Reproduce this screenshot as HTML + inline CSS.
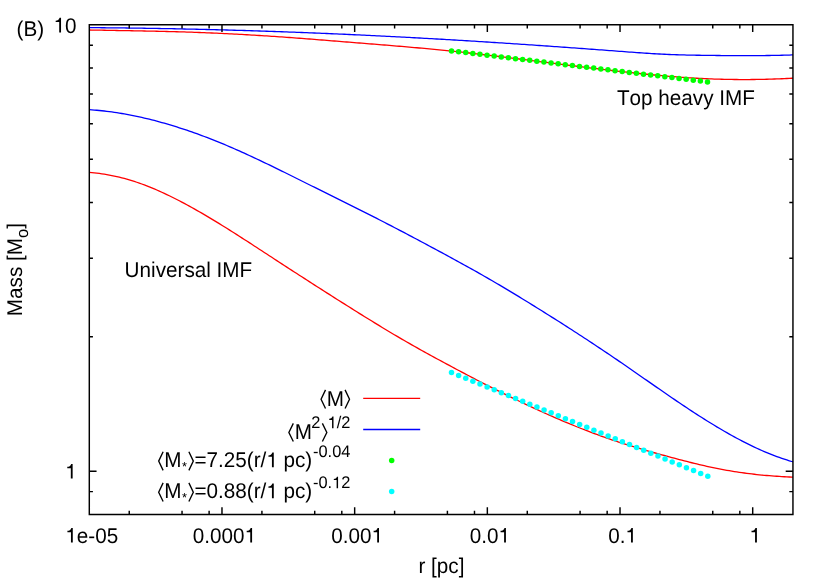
<!DOCTYPE html>
<html><head><meta charset="utf-8"><title>plot</title>
<style>html,body{margin:0;padding:0;background:#fff;}svg{display:block;will-change:transform;}</style>
</head><body>
<svg width="830" height="581" viewBox="0 0 830 581">
<rect x="0" y="0" width="830" height="581" fill="#fff"/>
<g fill="none" stroke-width="1.3" stroke-linejoin="round">
<path stroke="#ff0000" d="M89.3,172.31 L91.8,172.54 L94.3,172.81 L96.8,173.10 L99.3,173.43 L101.8,173.79 L104.3,174.18 L106.8,174.60 L109.3,175.05 L111.8,175.54 L114.3,176.06 L116.8,176.61 L119.3,177.20 L121.8,177.82 L124.3,178.47 L126.8,179.16 L129.3,179.88 L131.8,180.63 L134.3,181.42 L136.8,182.25 L139.3,183.11 L141.8,184.00 L144.3,184.92 L146.8,185.88 L149.3,186.87 L151.8,187.88 L154.3,188.93 L156.8,190.00 L159.3,191.10 L161.8,192.23 L164.3,193.38 L166.8,194.56 L169.3,195.76 L171.8,196.98 L174.3,198.23 L176.8,199.50 L179.3,200.78 L181.8,202.09 L184.3,203.42 L186.8,204.76 L189.3,206.12 L191.8,207.50 L194.3,208.90 L196.8,210.31 L199.3,211.74 L201.8,213.18 L204.3,214.64 L206.8,216.11 L209.3,217.59 L211.8,219.09 L214.3,220.60 L216.8,222.12 L219.3,223.65 L221.8,225.19 L224.3,226.74 L226.8,228.30 L229.3,229.87 L231.8,231.45 L234.3,233.03 L236.8,234.62 L239.3,236.22 L241.8,237.83 L244.3,239.44 L246.8,241.05 L249.3,242.67 L251.8,244.29 L254.3,245.92 L256.8,247.54 L259.3,249.17 L261.8,250.80 L264.3,252.43 L266.8,254.07 L269.3,255.70 L271.8,257.33 L274.3,258.96 L276.8,260.58 L279.3,262.21 L281.8,263.84 L284.3,265.46 L286.8,267.08 L289.3,268.71 L291.8,270.33 L294.3,271.94 L296.8,273.56 L299.3,275.18 L301.8,276.79 L304.3,278.40 L306.8,280.01 L309.3,281.62 L311.8,283.23 L314.3,284.83 L316.8,286.44 L319.3,288.04 L321.8,289.64 L324.3,291.23 L326.8,292.83 L329.3,294.42 L331.8,296.01 L334.3,297.60 L336.8,299.18 L339.3,300.76 L341.8,302.34 L344.3,303.92 L346.8,305.50 L349.3,307.07 L351.8,308.64 L354.3,310.20 L356.8,311.77 L359.3,313.33 L361.8,314.88 L364.3,316.44 L366.8,317.99 L369.3,319.53 L371.8,321.07 L374.3,322.61 L376.8,324.14 L379.3,325.67 L381.8,327.19 L384.3,328.70 L386.8,330.21 L389.3,331.71 L391.8,333.20 L394.3,334.69 L396.8,336.17 L399.3,337.64 L401.8,339.10 L404.3,340.55 L406.8,341.99 L409.3,343.42 L411.8,344.85 L414.3,346.26 L416.8,347.67 L419.3,349.07 L421.8,350.46 L424.3,351.85 L426.8,353.23 L429.3,354.61 L431.8,355.98 L434.3,357.34 L436.8,358.70 L439.3,360.05 L441.8,361.41 L444.3,362.75 L446.8,364.10 L449.3,365.44 L451.8,366.78 L454.3,368.11 L456.8,369.45 L459.3,370.77 L461.8,372.10 L464.3,373.42 L466.8,374.73 L469.3,376.05 L471.8,377.35 L474.3,378.66 L476.8,379.96 L479.3,381.25 L481.8,382.54 L484.3,383.82 L486.8,385.10 L489.3,386.38 L491.8,387.65 L494.3,388.91 L496.8,390.17 L499.3,391.42 L501.8,392.67 L504.3,393.91 L506.8,395.14 L509.3,396.37 L511.8,397.59 L514.3,398.81 L516.8,400.02 L519.3,401.22 L521.8,402.42 L524.3,403.61 L526.8,404.79 L529.3,405.96 L531.8,407.13 L534.3,408.29 L536.8,409.45 L539.3,410.59 L541.8,411.73 L544.3,412.86 L546.8,413.98 L549.3,415.09 L551.8,416.20 L554.3,417.30 L556.8,418.38 L559.3,419.46 L561.8,420.53 L564.3,421.59 L566.8,422.65 L569.3,423.69 L571.8,424.72 L574.3,425.74 L576.8,426.76 L579.3,427.76 L581.8,428.75 L584.3,429.73 L586.8,430.71 L589.3,431.67 L591.8,432.62 L594.3,433.56 L596.8,434.48 L599.3,435.40 L601.8,436.31 L604.3,437.20 L606.8,438.08 L609.3,438.95 L611.8,439.81 L614.3,440.66 L616.8,441.49 L619.3,442.31 L621.8,443.12 L624.3,443.92 L626.8,444.70 L629.3,445.47 L631.8,446.24 L634.3,446.99 L636.8,447.74 L639.3,448.47 L641.8,449.20 L644.3,449.92 L646.8,450.64 L649.3,451.35 L651.8,452.05 L654.3,452.75 L656.8,453.44 L659.3,454.13 L661.8,454.82 L664.3,455.50 L666.8,456.18 L669.3,456.86 L671.8,457.54 L674.3,458.21 L676.8,458.88 L679.3,459.54 L681.8,460.20 L684.3,460.85 L686.8,461.49 L689.3,462.12 L691.8,462.75 L694.3,463.36 L696.8,463.97 L699.3,464.57 L701.8,465.15 L704.3,465.72 L706.8,466.28 L709.3,466.83 L711.8,467.36 L714.3,467.88 L716.8,468.39 L719.3,468.88 L721.8,469.36 L724.3,469.82 L726.8,470.27 L729.3,470.70 L731.8,471.12 L734.3,471.53 L736.8,471.92 L739.3,472.30 L741.8,472.66 L744.3,473.01 L746.8,473.34 L749.3,473.66 L751.8,473.97 L754.3,474.26 L756.8,474.54 L759.3,474.80 L761.8,475.05 L764.3,475.28 L766.8,475.50 L769.3,475.71 L771.8,475.91 L774.3,476.10 L776.8,476.27 L779.3,476.43 L781.8,476.59 L784.3,476.73 L786.8,476.86 L789.3,476.99 L791.8,477.10 L793.0,477.15"/>
<path stroke="#0000ff" d="M89.3,109.68 L91.8,109.85 L94.3,110.04 L96.8,110.26 L99.3,110.49 L101.8,110.74 L104.3,111.01 L106.8,111.31 L109.3,111.62 L111.8,111.96 L114.3,112.31 L116.8,112.68 L119.3,113.08 L121.8,113.49 L124.3,113.92 L126.8,114.37 L129.3,114.84 L131.8,115.32 L134.3,115.83 L136.8,116.35 L139.3,116.89 L141.8,117.45 L144.3,118.02 L146.8,118.61 L149.3,119.22 L151.8,119.85 L154.3,120.49 L156.8,121.15 L159.3,121.82 L161.8,122.51 L164.3,123.22 L166.8,123.94 L169.3,124.67 L171.8,125.42 L174.3,126.19 L176.8,126.97 L179.3,127.77 L181.8,128.58 L184.3,129.40 L186.8,130.24 L189.3,131.09 L191.8,131.96 L194.3,132.84 L196.8,133.73 L199.3,134.64 L201.8,135.56 L204.3,136.49 L206.8,137.44 L209.3,138.40 L211.8,139.38 L214.3,140.37 L216.8,141.37 L219.3,142.39 L221.8,143.41 L224.3,144.45 L226.8,145.51 L229.3,146.57 L231.8,147.65 L234.3,148.74 L236.8,149.84 L239.3,150.95 L241.8,152.07 L244.3,153.20 L246.8,154.34 L249.3,155.49 L251.8,156.65 L254.3,157.81 L256.8,158.98 L259.3,160.17 L261.8,161.35 L264.3,162.55 L266.8,163.75 L269.3,164.95 L271.8,166.17 L274.3,167.38 L276.8,168.60 L279.3,169.83 L281.8,171.06 L284.3,172.29 L286.8,173.52 L289.3,174.76 L291.8,176.00 L294.3,177.24 L296.8,178.49 L299.3,179.73 L301.8,180.98 L304.3,182.22 L306.8,183.47 L309.3,184.71 L311.8,185.96 L314.3,187.20 L316.8,188.44 L319.3,189.68 L321.8,190.92 L324.3,192.16 L326.8,193.39 L329.3,194.63 L331.8,195.87 L334.3,197.11 L336.8,198.34 L339.3,199.58 L341.8,200.82 L344.3,202.06 L346.8,203.31 L349.3,204.55 L351.8,205.80 L354.3,207.05 L356.8,208.30 L359.3,209.56 L361.8,210.82 L364.3,212.08 L366.8,213.34 L369.3,214.61 L371.8,215.89 L374.3,217.16 L376.8,218.44 L379.3,219.72 L381.8,221.01 L384.3,222.29 L386.8,223.58 L389.3,224.88 L391.8,226.18 L394.3,227.48 L396.8,228.78 L399.3,230.08 L401.8,231.39 L404.3,232.70 L406.8,234.02 L409.3,235.34 L411.8,236.66 L414.3,237.98 L416.8,239.30 L419.3,240.63 L421.8,241.96 L424.3,243.29 L426.8,244.63 L429.3,245.97 L431.8,247.31 L434.3,248.65 L436.8,249.99 L439.3,251.34 L441.8,252.69 L444.3,254.04 L446.8,255.40 L449.3,256.75 L451.8,258.11 L454.3,259.48 L456.8,260.84 L459.3,262.21 L461.8,263.59 L464.3,264.97 L466.8,266.35 L469.3,267.74 L471.8,269.13 L474.3,270.53 L476.8,271.94 L479.3,273.35 L481.8,274.77 L484.3,276.20 L486.8,277.63 L489.3,279.07 L491.8,280.52 L494.3,281.98 L496.8,283.44 L499.3,284.91 L501.8,286.39 L504.3,287.88 L506.8,289.37 L509.3,290.87 L511.8,292.37 L514.3,293.88 L516.8,295.40 L519.3,296.92 L521.8,298.44 L524.3,299.97 L526.8,301.51 L529.3,303.05 L531.8,304.59 L534.3,306.14 L536.8,307.69 L539.3,309.25 L541.8,310.80 L544.3,312.37 L546.8,313.93 L549.3,315.50 L551.8,317.08 L554.3,318.66 L556.8,320.24 L559.3,321.82 L561.8,323.41 L564.3,325.01 L566.8,326.61 L569.3,328.21 L571.8,329.82 L574.3,331.44 L576.8,333.05 L579.3,334.68 L581.8,336.30 L584.3,337.94 L586.8,339.57 L589.3,341.22 L591.8,342.86 L594.3,344.52 L596.8,346.17 L599.3,347.84 L601.8,349.51 L604.3,351.18 L606.8,352.86 L609.3,354.55 L611.8,356.24 L614.3,357.93 L616.8,359.64 L619.3,361.34 L621.8,363.06 L624.3,364.78 L626.8,366.50 L629.3,368.23 L631.8,369.96 L634.3,371.70 L636.8,373.44 L639.3,375.18 L641.8,376.92 L644.3,378.66 L646.8,380.40 L649.3,382.14 L651.8,383.88 L654.3,385.62 L656.8,387.36 L659.3,389.09 L661.8,390.82 L664.3,392.54 L666.8,394.26 L669.3,395.98 L671.8,397.69 L674.3,399.39 L676.8,401.09 L679.3,402.78 L681.8,404.46 L684.3,406.13 L686.8,407.80 L689.3,409.45 L691.8,411.09 L694.3,412.73 L696.8,414.35 L699.3,415.95 L701.8,417.55 L704.3,419.13 L706.8,420.70 L709.3,422.25 L711.8,423.79 L714.3,425.31 L716.8,426.82 L719.3,428.31 L721.8,429.78 L724.3,431.23 L726.8,432.67 L729.3,434.08 L731.8,435.48 L734.3,436.85 L736.8,438.21 L739.3,439.54 L741.8,440.85 L744.3,442.14 L746.8,443.40 L749.3,444.65 L751.8,445.86 L754.3,447.05 L756.8,448.22 L759.3,449.36 L761.8,450.47 L764.3,451.55 L766.8,452.61 L769.3,453.64 L771.8,454.64 L774.3,455.60 L776.8,456.54 L779.3,457.45 L781.8,458.33 L784.3,459.17 L786.8,459.98 L789.3,460.76 L791.8,461.50 L793.0,461.83"/>
<path stroke="#ff0000" d="M89.3,29.98 L91.8,30.03 L94.3,30.08 L96.8,30.13 L99.3,30.17 L101.8,30.22 L104.3,30.26 L106.8,30.31 L109.3,30.35 L111.8,30.40 L114.3,30.44 L116.8,30.48 L119.3,30.53 L121.8,30.57 L124.3,30.61 L126.8,30.66 L129.3,30.70 L131.8,30.75 L134.3,30.79 L136.8,30.84 L139.3,30.89 L141.8,30.93 L144.3,30.98 L146.8,31.03 L149.3,31.08 L151.8,31.13 L154.3,31.19 L156.8,31.24 L159.3,31.30 L161.8,31.36 L164.3,31.42 L166.8,31.48 L169.3,31.54 L171.8,31.61 L174.3,31.68 L176.8,31.75 L179.3,31.82 L181.8,31.90 L184.3,31.97 L186.8,32.06 L189.3,32.14 L191.8,32.22 L194.3,32.31 L196.8,32.40 L199.3,32.50 L201.8,32.59 L204.3,32.69 L206.8,32.79 L209.3,32.90 L211.8,33.00 L214.3,33.11 L216.8,33.22 L219.3,33.33 L221.8,33.45 L224.3,33.57 L226.8,33.69 L229.3,33.81 L231.8,33.94 L234.3,34.07 L236.8,34.20 L239.3,34.33 L241.8,34.47 L244.3,34.60 L246.8,34.75 L249.3,34.89 L251.8,35.03 L254.3,35.18 L256.8,35.33 L259.3,35.49 L261.8,35.64 L264.3,35.80 L266.8,35.96 L269.3,36.12 L271.8,36.29 L274.3,36.46 L276.8,36.63 L279.3,36.80 L281.8,36.97 L284.3,37.15 L286.8,37.33 L289.3,37.51 L291.8,37.69 L294.3,37.87 L296.8,38.06 L299.3,38.24 L301.8,38.43 L304.3,38.62 L306.8,38.81 L309.3,39.01 L311.8,39.20 L314.3,39.40 L316.8,39.59 L319.3,39.79 L321.8,39.99 L324.3,40.18 L326.8,40.38 L329.3,40.58 L331.8,40.78 L334.3,40.99 L336.8,41.19 L339.3,41.39 L341.8,41.59 L344.3,41.79 L346.8,42.00 L349.3,42.20 L351.8,42.40 L354.3,42.60 L356.8,42.80 L359.3,43.01 L361.8,43.21 L364.3,43.41 L366.8,43.61 L369.3,43.81 L371.8,44.01 L374.3,44.21 L376.8,44.41 L379.3,44.62 L381.8,44.82 L384.3,45.02 L386.8,45.22 L389.3,45.43 L391.8,45.63 L394.3,45.84 L396.8,46.05 L399.3,46.26 L401.8,46.47 L404.3,46.68 L406.8,46.89 L409.3,47.11 L411.8,47.32 L414.3,47.54 L416.8,47.76 L419.3,47.99 L421.8,48.21 L424.3,48.44 L426.8,48.67 L429.3,48.90 L431.8,49.13 L434.3,49.37 L436.8,49.61 L439.3,49.85 L441.8,50.10 L444.3,50.35 L446.8,50.60 L449.3,50.86 L451.8,51.12 L454.3,51.38 L456.8,51.65 L459.3,51.91 L461.8,52.18 L464.3,52.46 L466.8,52.73 L469.3,53.01 L471.8,53.29 L474.3,53.58 L476.8,53.86 L479.3,54.15 L481.8,54.44 L484.3,54.73 L486.8,55.03 L489.3,55.32 L491.8,55.62 L494.3,55.92 L496.8,56.22 L499.3,56.52 L501.8,56.83 L504.3,57.13 L506.8,57.44 L509.3,57.75 L511.8,58.06 L514.3,58.37 L516.8,58.68 L519.3,58.99 L521.8,59.31 L524.3,59.62 L526.8,59.94 L529.3,60.25 L531.8,60.57 L534.3,60.89 L536.8,61.20 L539.3,61.52 L541.8,61.84 L544.3,62.15 L546.8,62.47 L549.3,62.79 L551.8,63.11 L554.3,63.42 L556.8,63.74 L559.3,64.06 L561.8,64.37 L564.3,64.69 L566.8,65.01 L569.3,65.32 L571.8,65.63 L574.3,65.95 L576.8,66.26 L579.3,66.57 L581.8,66.88 L584.3,67.19 L586.8,67.49 L589.3,67.80 L591.8,68.10 L594.3,68.41 L596.8,68.71 L599.3,69.01 L601.8,69.31 L604.3,69.60 L606.8,69.90 L609.3,70.19 L611.8,70.48 L614.3,70.77 L616.8,71.06 L619.3,71.34 L621.8,71.62 L624.3,71.90 L626.8,72.18 L629.3,72.45 L631.8,72.72 L634.3,72.99 L636.8,73.25 L639.3,73.51 L641.8,73.77 L644.3,74.02 L646.8,74.27 L649.3,74.52 L651.8,74.76 L654.3,75.00 L656.8,75.23 L659.3,75.46 L661.8,75.68 L664.3,75.90 L666.8,76.11 L669.3,76.32 L671.8,76.53 L674.3,76.72 L676.8,76.92 L679.3,77.10 L681.8,77.28 L684.3,77.46 L686.8,77.63 L689.3,77.79 L691.8,77.94 L694.3,78.09 L696.8,78.24 L699.3,78.37 L701.8,78.50 L704.3,78.62 L706.8,78.74 L709.3,78.84 L711.8,78.94 L714.3,79.03 L716.8,79.11 L719.3,79.19 L721.8,79.26 L724.3,79.32 L726.8,79.37 L729.3,79.42 L731.8,79.46 L734.3,79.49 L736.8,79.51 L739.3,79.53 L741.8,79.54 L744.3,79.54 L746.8,79.54 L749.3,79.53 L751.8,79.51 L754.3,79.48 L756.8,79.45 L759.3,79.40 L761.8,79.36 L764.3,79.30 L766.8,79.24 L769.3,79.17 L771.8,79.10 L774.3,79.01 L776.8,78.92 L779.3,78.83 L781.8,78.73 L784.3,78.62 L786.8,78.50 L789.3,78.38 L791.8,78.25 L793.0,78.18"/>
<path stroke="#0000ff" d="M89.3,27.64 L91.8,27.66 L94.3,27.68 L96.8,27.70 L99.3,27.72 L101.8,27.74 L104.3,27.76 L106.8,27.78 L109.3,27.81 L111.8,27.83 L114.3,27.86 L116.8,27.89 L119.3,27.91 L121.8,27.94 L124.3,27.97 L126.8,28.00 L129.3,28.03 L131.8,28.07 L134.3,28.10 L136.8,28.14 L139.3,28.17 L141.8,28.21 L144.3,28.25 L146.8,28.28 L149.3,28.32 L151.8,28.36 L154.3,28.40 L156.8,28.45 L159.3,28.49 L161.8,28.53 L164.3,28.58 L166.8,28.63 L169.3,28.67 L171.8,28.72 L174.3,28.77 L176.8,28.82 L179.3,28.87 L181.8,28.92 L184.3,28.98 L186.8,29.03 L189.3,29.08 L191.8,29.14 L194.3,29.20 L196.8,29.25 L199.3,29.31 L201.8,29.37 L204.3,29.43 L206.8,29.49 L209.3,29.56 L211.8,29.62 L214.3,29.68 L216.8,29.75 L219.3,29.81 L221.8,29.88 L224.3,29.95 L226.8,30.02 L229.3,30.09 L231.8,30.16 L234.3,30.23 L236.8,30.30 L239.3,30.37 L241.8,30.45 L244.3,30.52 L246.8,30.60 L249.3,30.68 L251.8,30.76 L254.3,30.83 L256.8,30.91 L259.3,30.99 L261.8,31.08 L264.3,31.16 L266.8,31.24 L269.3,31.33 L271.8,31.41 L274.3,31.50 L276.8,31.58 L279.3,31.67 L281.8,31.76 L284.3,31.85 L286.8,31.94 L289.3,32.03 L291.8,32.13 L294.3,32.22 L296.8,32.31 L299.3,32.41 L301.8,32.50 L304.3,32.60 L306.8,32.70 L309.3,32.80 L311.8,32.90 L314.3,33.00 L316.8,33.10 L319.3,33.20 L321.8,33.31 L324.3,33.41 L326.8,33.51 L329.3,33.62 L331.8,33.73 L334.3,33.83 L336.8,33.94 L339.3,34.05 L341.8,34.16 L344.3,34.27 L346.8,34.38 L349.3,34.50 L351.8,34.61 L354.3,34.73 L356.8,34.84 L359.3,34.96 L361.8,35.07 L364.3,35.19 L366.8,35.31 L369.3,35.43 L371.8,35.55 L374.3,35.67 L376.8,35.80 L379.3,35.92 L381.8,36.04 L384.3,36.17 L386.8,36.29 L389.3,36.42 L391.8,36.55 L394.3,36.68 L396.8,36.80 L399.3,36.93 L401.8,37.07 L404.3,37.20 L406.8,37.33 L409.3,37.46 L411.8,37.60 L414.3,37.73 L416.8,37.87 L419.3,38.00 L421.8,38.14 L424.3,38.28 L426.8,38.42 L429.3,38.56 L431.8,38.70 L434.3,38.84 L436.8,38.98 L439.3,39.13 L441.8,39.27 L444.3,39.42 L446.8,39.56 L449.3,39.71 L451.8,39.86 L454.3,40.01 L456.8,40.15 L459.3,40.30 L461.8,40.46 L464.3,40.61 L466.8,40.76 L469.3,40.91 L471.8,41.07 L474.3,41.22 L476.8,41.38 L479.3,41.53 L481.8,41.69 L484.3,41.85 L486.8,42.00 L489.3,42.16 L491.8,42.32 L494.3,42.48 L496.8,42.64 L499.3,42.81 L501.8,42.97 L504.3,43.13 L506.8,43.30 L509.3,43.46 L511.8,43.63 L514.3,43.79 L516.8,43.96 L519.3,44.13 L521.8,44.29 L524.3,44.46 L526.8,44.63 L529.3,44.80 L531.8,44.97 L534.3,45.14 L536.8,45.31 L539.3,45.49 L541.8,45.66 L544.3,45.83 L546.8,46.01 L549.3,46.18 L551.8,46.36 L554.3,46.53 L556.8,46.71 L559.3,46.88 L561.8,47.06 L564.3,47.24 L566.8,47.42 L569.3,47.60 L571.8,47.78 L574.3,47.96 L576.8,48.14 L579.3,48.32 L581.8,48.50 L584.3,48.68 L586.8,48.86 L589.3,49.05 L591.8,49.23 L594.3,49.42 L596.8,49.60 L599.3,49.78 L601.8,49.97 L604.3,50.16 L606.8,50.34 L609.3,50.53 L611.8,50.72 L614.3,50.90 L616.8,51.09 L619.3,51.28 L621.8,51.47 L624.3,51.66 L626.8,51.84 L629.3,52.03 L631.8,52.22 L634.3,52.40 L636.8,52.58 L639.3,52.76 L641.8,52.93 L644.3,53.10 L646.8,53.27 L649.3,53.43 L651.8,53.59 L654.3,53.74 L656.8,53.88 L659.3,54.02 L661.8,54.15 L664.3,54.27 L666.8,54.38 L669.3,54.48 L671.8,54.58 L674.3,54.67 L676.8,54.76 L679.3,54.83 L681.8,54.90 L684.3,54.97 L686.8,55.03 L689.3,55.09 L691.8,55.14 L694.3,55.18 L696.8,55.23 L699.3,55.27 L701.8,55.31 L704.3,55.34 L706.8,55.37 L709.3,55.41 L711.8,55.44 L714.3,55.47 L716.8,55.49 L719.3,55.52 L721.8,55.54 L724.3,55.56 L726.8,55.58 L729.3,55.60 L731.8,55.62 L734.3,55.63 L736.8,55.64 L739.3,55.65 L741.8,55.65 L744.3,55.66 L746.8,55.66 L749.3,55.65 L751.8,55.64 L754.3,55.63 L756.8,55.62 L759.3,55.60 L761.8,55.58 L764.3,55.55 L766.8,55.52 L769.3,55.49 L771.8,55.45 L774.3,55.40 L776.8,55.35 L779.3,55.30 L781.8,55.24 L784.3,55.18 L786.8,55.11 L789.3,55.04 L791.8,54.96 L793.0,54.92"/>
</g>
<g fill="#00ff00">
<circle cx="451.50" cy="50.90" r="2.75"/>
<circle cx="458.61" cy="51.76" r="2.75"/>
<circle cx="465.72" cy="52.62" r="2.75"/>
<circle cx="472.83" cy="53.48" r="2.75"/>
<circle cx="479.94" cy="54.34" r="2.75"/>
<circle cx="487.06" cy="55.21" r="2.75"/>
<circle cx="494.17" cy="56.07" r="2.75"/>
<circle cx="501.28" cy="56.93" r="2.75"/>
<circle cx="508.39" cy="57.79" r="2.75"/>
<circle cx="515.50" cy="58.65" r="2.75"/>
<circle cx="522.61" cy="59.51" r="2.75"/>
<circle cx="529.72" cy="60.37" r="2.75"/>
<circle cx="536.83" cy="61.23" r="2.75"/>
<circle cx="543.94" cy="62.09" r="2.75"/>
<circle cx="551.06" cy="62.96" r="2.75"/>
<circle cx="558.17" cy="63.82" r="2.75"/>
<circle cx="565.28" cy="64.68" r="2.75"/>
<circle cx="572.39" cy="65.54" r="2.75"/>
<circle cx="579.50" cy="66.40" r="2.75"/>
<circle cx="586.61" cy="67.26" r="2.75"/>
<circle cx="593.72" cy="68.12" r="2.75"/>
<circle cx="600.83" cy="68.98" r="2.75"/>
<circle cx="607.94" cy="69.84" r="2.75"/>
<circle cx="615.06" cy="70.71" r="2.75"/>
<circle cx="622.17" cy="71.57" r="2.75"/>
<circle cx="629.28" cy="72.43" r="2.75"/>
<circle cx="636.39" cy="73.29" r="2.75"/>
<circle cx="643.50" cy="74.15" r="2.75"/>
<circle cx="650.61" cy="75.01" r="2.75"/>
<circle cx="657.72" cy="75.87" r="2.75"/>
<circle cx="664.83" cy="76.73" r="2.75"/>
<circle cx="671.94" cy="77.59" r="2.75"/>
<circle cx="679.06" cy="78.46" r="2.75"/>
<circle cx="686.17" cy="79.32" r="2.75"/>
<circle cx="693.28" cy="80.18" r="2.75"/>
<circle cx="700.39" cy="81.04" r="2.75"/>
<circle cx="707.50" cy="81.90" r="2.75"/>
</g>
<g fill="#00ffff">
<circle cx="451.50" cy="372.50" r="2.75"/>
<circle cx="458.62" cy="375.38" r="2.75"/>
<circle cx="465.74" cy="378.27" r="2.75"/>
<circle cx="472.86" cy="381.15" r="2.75"/>
<circle cx="479.98" cy="384.03" r="2.75"/>
<circle cx="487.10" cy="386.92" r="2.75"/>
<circle cx="494.22" cy="389.80" r="2.75"/>
<circle cx="501.34" cy="392.68" r="2.75"/>
<circle cx="508.46" cy="395.57" r="2.75"/>
<circle cx="515.58" cy="398.45" r="2.75"/>
<circle cx="522.69" cy="401.33" r="2.75"/>
<circle cx="529.81" cy="404.22" r="2.75"/>
<circle cx="536.93" cy="407.10" r="2.75"/>
<circle cx="544.05" cy="409.98" r="2.75"/>
<circle cx="551.17" cy="412.87" r="2.75"/>
<circle cx="558.29" cy="415.75" r="2.75"/>
<circle cx="565.41" cy="418.63" r="2.75"/>
<circle cx="572.53" cy="421.52" r="2.75"/>
<circle cx="579.65" cy="424.40" r="2.75"/>
<circle cx="586.77" cy="427.28" r="2.75"/>
<circle cx="593.89" cy="430.17" r="2.75"/>
<circle cx="601.01" cy="433.05" r="2.75"/>
<circle cx="608.13" cy="435.93" r="2.75"/>
<circle cx="615.25" cy="438.82" r="2.75"/>
<circle cx="622.37" cy="441.70" r="2.75"/>
<circle cx="629.49" cy="444.58" r="2.75"/>
<circle cx="636.61" cy="447.47" r="2.75"/>
<circle cx="643.72" cy="450.35" r="2.75"/>
<circle cx="650.84" cy="453.23" r="2.75"/>
<circle cx="657.96" cy="456.12" r="2.75"/>
<circle cx="665.08" cy="459.00" r="2.75"/>
<circle cx="672.20" cy="461.88" r="2.75"/>
<circle cx="679.32" cy="464.77" r="2.75"/>
<circle cx="686.44" cy="467.65" r="2.75"/>
<circle cx="693.56" cy="470.53" r="2.75"/>
<circle cx="700.68" cy="473.42" r="2.75"/>
<circle cx="707.80" cy="476.30" r="2.75"/>
</g>
<g fill="none" stroke-width="1.3">
<path stroke="#ff0000" d="M363.2,398.4 H420.2"/>
<path stroke="#0000ff" d="M363.2,429.5 H420.2"/>
</g>
<circle cx="391.7" cy="460.4" r="2.75" fill="#00ff00"/>
<circle cx="391.7" cy="491.5" r="2.75" fill="#00ffff"/>
<path fill="none" stroke="#000" stroke-width="1.45" stroke-linejoin="miter" d="M89.3,24.8 H792.95 V514.45 H89.3 Z M129.24,514.45 v-3.63 M129.24,24.8 v3.63 M182.04,514.45 v-3.63 M182.04,24.8 v3.63 M209.12,514.45 v-3.63 M209.12,24.8 v3.63 M221.98,514.45 v-7.26 M221.98,24.8 v7.26 M261.92,514.45 v-3.63 M261.92,24.8 v3.63 M314.72,514.45 v-3.63 M314.72,24.8 v3.63 M341.80,514.45 v-3.63 M341.80,24.8 v3.63 M354.66,514.45 v-7.26 M354.66,24.8 v7.26 M394.60,514.45 v-3.63 M394.60,24.8 v3.63 M447.40,514.45 v-3.63 M447.40,24.8 v3.63 M474.48,514.45 v-3.63 M474.48,24.8 v3.63 M487.34,514.45 v-7.26 M487.34,24.8 v7.26 M527.28,514.45 v-3.63 M527.28,24.8 v3.63 M580.08,514.45 v-3.63 M580.08,24.8 v3.63 M607.16,514.45 v-3.63 M607.16,24.8 v3.63 M620.02,514.45 v-7.26 M620.02,24.8 v7.26 M659.96,514.45 v-3.63 M659.96,24.8 v3.63 M712.76,514.45 v-3.63 M712.76,24.8 v3.63 M739.84,514.45 v-3.63 M739.84,24.8 v3.63 M752.70,514.45 v-7.26 M752.70,24.8 v7.26 M89.3,491.62 h3.63 M792.95,491.62 h-3.63 M89.3,471.19 h7.26 M792.95,471.19 h-7.26 M89.3,336.81 h3.63 M792.95,336.81 h-3.63 M89.3,258.21 h3.63 M792.95,258.21 h-3.63 M89.3,202.44 h3.63 M792.95,202.44 h-3.63 M89.3,159.18 h3.63 M792.95,159.18 h-3.63 M89.3,123.83 h3.63 M792.95,123.83 h-3.63 M89.3,93.95 h3.63 M792.95,93.95 h-3.63 M89.3,68.06 h3.63 M792.95,68.06 h-3.63 M89.3,45.23 h3.63 M792.95,45.23 h-3.63"/>
<g font-family="'Liberation Sans', sans-serif" font-size="20.7px" fill="#000" style="font-kerning:none;text-rendering:geometricPrecision">
<text transform="translate(16.50,35.60) scale(1,1.03)" font-size="20.7px" xml:space="preserve">(B)</text>
<text transform="translate(53.58,32.50) scale(1,1.03)" font-size="20.7px" xml:space="preserve">  0</text><path d="M61.03,32.50 L59.21,32.50 L59.21,22.05 L55.67,22.05 L55.67,20.70 C57.51,20.62 59.00,19.83 59.62,17.82 L61.03,17.82 Z" fill="#000" stroke="none"/>
<text transform="translate(65.19,478.59) scale(1,1.03)" font-size="20.7px" xml:space="preserve">  </text><path d="M72.64,478.59 L70.82,478.59 L70.82,468.14 L67.28,468.14 L67.28,466.79 C69.12,466.71 70.61,465.92 71.23,463.91 L72.64,463.91 Z" fill="#000" stroke="none"/>
<text transform="translate(65.33,542.60) scale(1,1.03)" font-size="20.7px" xml:space="preserve">  e-05</text><path d="M72.78,542.60 L70.96,542.60 L70.96,532.15 L67.42,532.15 L67.42,530.80 C69.26,530.72 70.75,529.93 71.37,527.92 L72.78,527.92 Z" fill="#000" stroke="none"/>
<text transform="translate(192.82,542.60) scale(1,1.03)" font-size="20.7px" xml:space="preserve">0.000  </text><path d="M252.08,542.60 L250.25,542.60 L250.25,532.15 L246.71,532.15 L246.71,530.80 C248.56,530.72 250.05,529.93 250.67,527.92 L252.08,527.92 Z" fill="#000" stroke="none"/>
<text transform="translate(331.26,542.60) scale(1,1.03)" font-size="20.7px" xml:space="preserve">0.00  </text><path d="M379.00,542.60 L377.18,542.60 L377.18,532.15 L373.64,532.15 L373.64,530.80 C375.48,530.72 376.97,529.93 377.59,527.92 L379.00,527.92 Z" fill="#000" stroke="none"/>
<text transform="translate(469.70,542.60) scale(1,1.03)" font-size="20.7px" xml:space="preserve">0.0  </text><path d="M505.92,542.60 L504.10,542.60 L504.10,532.15 L500.56,532.15 L500.56,530.80 C502.40,530.72 503.90,529.93 504.52,527.92 L505.92,527.92 Z" fill="#000" stroke="none"/>
<text transform="translate(608.13,542.60) scale(1,1.03)" font-size="20.7px" xml:space="preserve">0.  </text><path d="M632.85,542.60 L631.03,542.60 L631.03,532.15 L627.49,532.15 L627.49,530.80 C629.33,530.72 630.82,529.93 631.44,527.92 L632.85,527.92 Z" fill="#000" stroke="none"/>
<text transform="translate(749.44,542.60) scale(1,1.03)" font-size="20.7px" xml:space="preserve">  </text><path d="M756.90,542.60 L755.07,542.60 L755.07,532.15 L751.53,532.15 L751.53,530.80 C753.38,530.72 754.87,529.93 755.49,527.92 L756.90,527.92 Z" fill="#000" stroke="none"/>
<text transform="translate(418.40,572.90) scale(1,1.03)" font-size="20.7px" xml:space="preserve">r [pc]</text>
<text transform="translate(22.2,316.14) rotate(-90) scale(1,1.03)">Mass [M<tspan font-size="16.4px" dy="6">o</tspan><tspan dy="-6">]</tspan></text>
<text transform="translate(124.60,276.50) scale(1,1.03)" font-size="20.7px" xml:space="preserve">Universal IMF</text>
<text transform="translate(616.90,105.00) scale(1,1.03)" font-size="20.7px" xml:space="preserve">Top heavy IMF</text>
<path fill="none" stroke="#000" stroke-width="1.35" d="M325.52,389.90 L321.07,399.20 L325.52,408.50"/>
<text transform="translate(326.63,405.70) scale(1,1.03)" font-size="20.7px" xml:space="preserve">M</text>
<path fill="none" stroke="#000" stroke-width="1.35" d="M345.07,389.90 L349.52,399.20 L345.07,408.50"/>
<path fill="none" stroke="#000" stroke-width="1.35" d="M293.32,423.40 L288.88,432.45 L293.32,441.50"/>
<text transform="translate(294.80,438.70) scale(1,1.03)" font-size="20.7px" xml:space="preserve">M</text>
<text transform="translate(311.28,428.20) scale(1,1.03)" font-size="16.4px" xml:space="preserve">2</text>
<path fill="none" stroke="#000" stroke-width="1.35" d="M322.38,423.40 L326.82,432.45 L322.38,441.50"/>
<text transform="translate(327.60,428.20) scale(1,1.03)" font-size="16.4px" xml:space="preserve">  /2</text><path d="M333.51,428.20 L332.06,428.20 L332.06,419.92 L329.26,419.92 L329.26,418.85 C330.72,418.79 331.90,418.16 332.39,416.57 L333.51,416.57 Z" fill="#000" stroke="none"/>
<path fill="none" stroke="#000" stroke-width="1.35" d="M163.12,451.80 L158.68,461.10 L163.12,470.40"/>
<text transform="translate(164.20,467.20) scale(1,1.03)" font-size="20.7px" xml:space="preserve">M</text>
<text transform="translate(182.00,471.15) scale(1,1.03)" font-size="12.8px" xml:space="preserve">*</text>
<path fill="none" stroke="#000" stroke-width="1.35" d="M188.88,451.80 L193.32,461.10 L188.88,470.40"/>
<text transform="translate(194.40,467.20) scale(1,1.03)" font-size="20.7px" xml:space="preserve">=7.25(r/   pc)</text><path d="M273.77,467.20 L271.94,467.20 L271.94,456.75 L268.41,456.75 L268.41,455.40 C270.25,455.32 271.74,454.53 272.36,452.52 L273.77,452.52 Z" fill="#000" stroke="none"/>
<text transform="translate(313.02,457.20) scale(1,1.03)" font-size="16.4px" xml:space="preserve">-0.04</text>
<path fill="none" stroke="#000" stroke-width="1.35" d="M163.12,482.90 L158.68,492.20 L163.12,501.50"/>
<text transform="translate(164.20,498.30) scale(1,1.03)" font-size="20.7px" xml:space="preserve">M</text>
<text transform="translate(182.00,502.25) scale(1,1.03)" font-size="12.8px" xml:space="preserve">*</text>
<path fill="none" stroke="#000" stroke-width="1.35" d="M188.88,482.90 L193.32,492.20 L188.88,501.50"/>
<text transform="translate(194.40,498.30) scale(1,1.03)" font-size="20.7px" xml:space="preserve">=0.88(r/   pc)</text><path d="M273.77,498.30 L271.94,498.30 L271.94,487.85 L268.41,487.85 L268.41,486.50 C270.25,486.42 271.74,485.63 272.36,483.62 L273.77,483.62 Z" fill="#000" stroke="none"/>
<text transform="translate(313.02,488.30) scale(1,1.03)" font-size="16.4px" xml:space="preserve">-0.  2</text><path d="M338.06,488.30 L336.62,488.30 L336.62,480.02 L333.81,480.02 L333.81,478.95 C335.27,478.89 336.46,478.26 336.95,476.67 L338.06,476.67 Z" fill="#000" stroke="none"/>
</g>
</svg>
</body></html>
